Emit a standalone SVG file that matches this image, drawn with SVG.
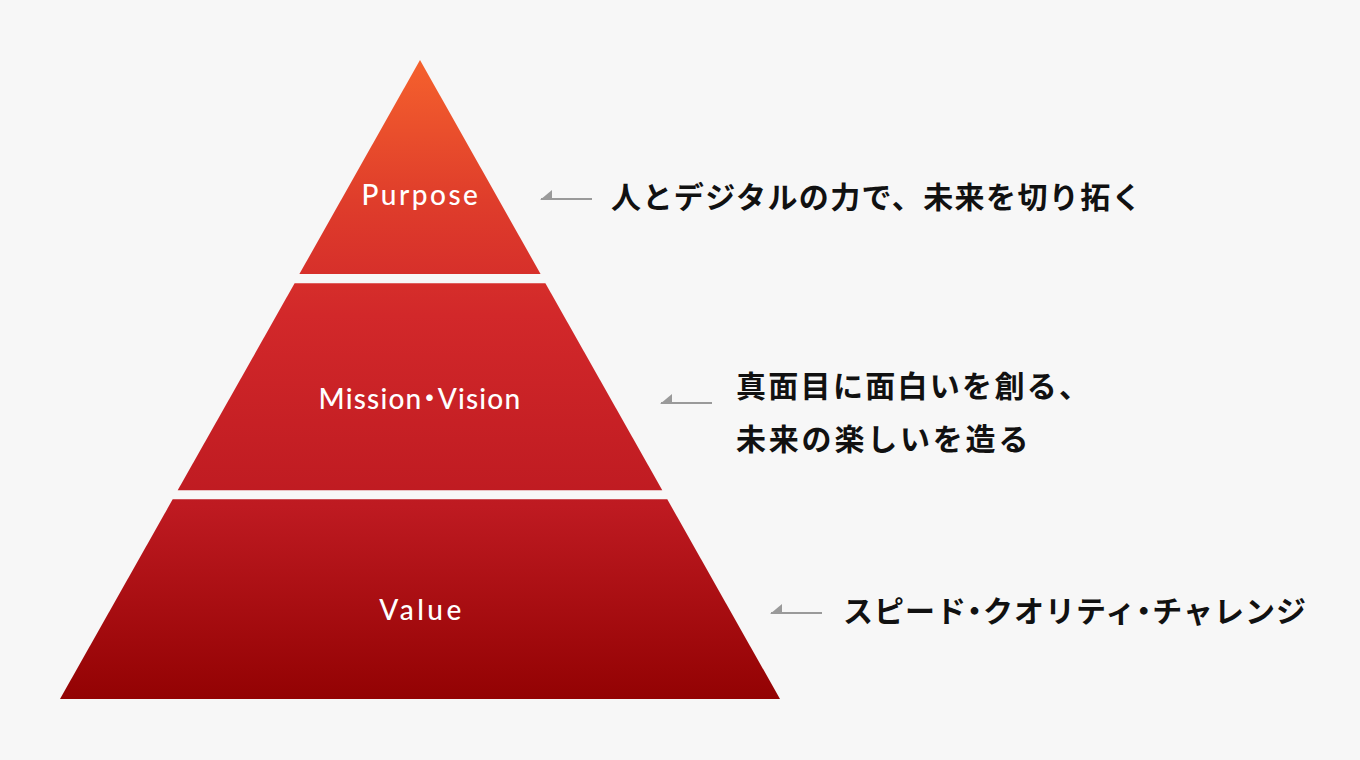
<svg xmlns="http://www.w3.org/2000/svg" width="1360" height="760" viewBox="0 0 1360 760">
  <defs>
    <linearGradient id="pyr" gradientUnits="userSpaceOnUse" x1="0" y1="60" x2="0" y2="699">
      <stop offset="0" stop-color="#F5612D"/>
      <stop offset="0.22" stop-color="#DF3D2B"/>
      <stop offset="0.4" stop-color="#D2282A"/>
      <stop offset="0.7" stop-color="#BE1A21"/>
      <stop offset="1" stop-color="#930203"/>
    </linearGradient>
    <style>
      .tier { fill: url(#pyr); }
      .lbl { font-family: Lato, "Noto Sans", sans-serif; font-size: 28px; font-weight: 500; fill: #ffffff; text-anchor: middle; }
      .jp { font-family: "Noto Sans CJK JP", "Noto Sans", sans-serif; font-size: 30px; font-weight: 700; fill: #111111; letter-spacing: 1px; }
      .nd { font-feature-settings: "palt" 1; }
      .arr line { stroke: #9a9a9a; stroke-width: 2; }
      .arr polygon { fill: #9a9a9a; }
    </style>
  </defs>
  <rect width="1360" height="760" fill="#F7F7F7"/>

  <g id="purpose">
    <polygon class="tier" points="420,60 540.6,274 299.4,274"/>
    <text class="lbl" x="421" y="205" style="letter-spacing:2.5px">Purpose</text>
  </g>
  <g id="mission-vision">
    <polygon class="tier" points="294.6,283.3 545.4,283.3 662.3,490.3 177.7,490.3"/>
    <text class="lbl" x="420" y="409" style="letter-spacing:1.2px">Mission<tspan class="nd" font-family="Noto Sans CJK JP, sans-serif">・</tspan>Vision</text>
  </g>
  <g id="value">
    <polygon class="tier" points="172.7,499.3 667.3,499.3 780,699 60,699"/>
    <text class="lbl" x="422" y="620" style="letter-spacing:3.5px">Value</text>
  </g>

  <g id="connectors" class="arr">
    <line x1="541" y1="199" x2="592" y2="199"/>
    <polygon points="540,200 552,190 552,200"/>
    <line x1="661" y1="403" x2="712" y2="403"/>
    <polygon points="660,404 672,394 672,404"/>
    <line x1="771" y1="613" x2="822" y2="613"/>
    <polygon points="770,614 782,604 782,614"/>
  </g>

  <g id="purpose-text">
    <text class="jp" x="611" y="208" style="letter-spacing:1.4px">人とデジタルの力で、未来を切り拓く</text>
  </g>
  <g id="mission-vision-text">
    <text class="jp" x="736" y="397" style="letter-spacing:2.3px">真面目に面白いを創る、</text>
    <text class="jp" x="736" y="450" style="letter-spacing:2.8px">未来の楽しいを造る</text>
  </g>
  <g id="value-text">
    <text class="jp" x="843" y="622">スピード<tspan class="nd">・</tspan>クオリティ<tspan class="nd">・</tspan>チャレンジ</text>
  </g>
</svg>
